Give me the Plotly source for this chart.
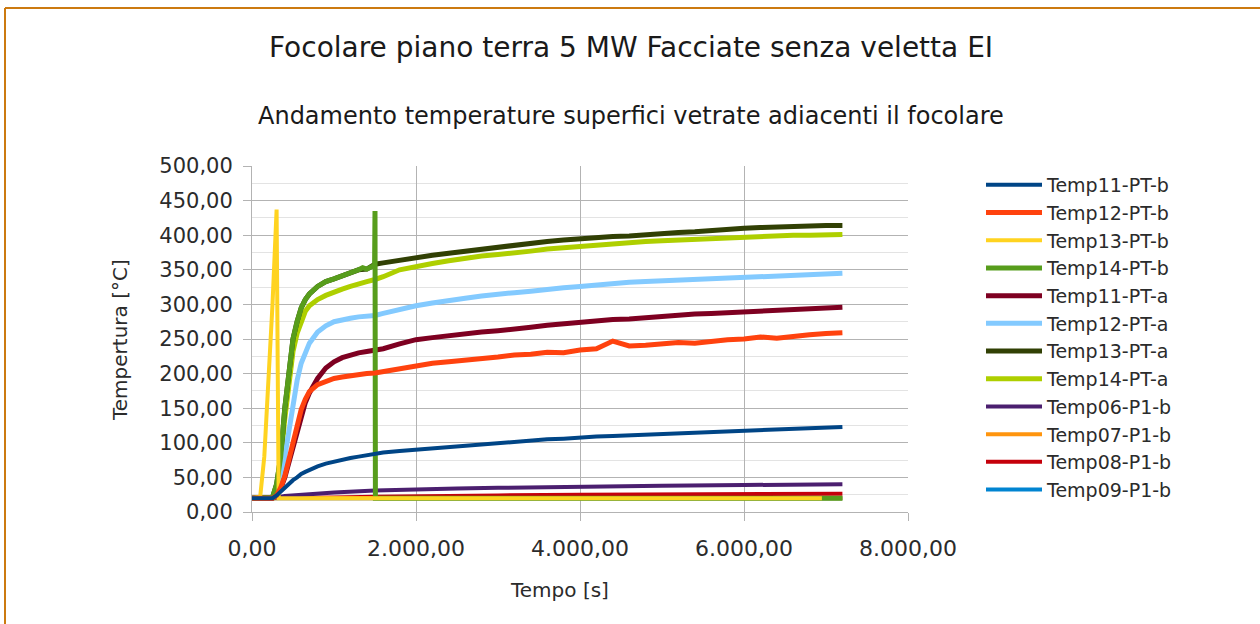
import plotly.graph_objects as go

# ---------------- data ----------------
t_common = [0, 100, 200, 250, 300, 350, 400, 450, 500, 550, 600, 650, 700, 800, 900,
            1000, 1100, 1200, 1300, 1400, 1500,
            1600, 1800, 2000, 2200, 2400, 2600, 2800, 3000, 3200, 3400, 3600, 3800,
            4000, 4200, 4400, 4600, 4800, 5000, 5200, 5400, 5600, 5800, 6000, 6200,
            6400, 6600, 6800, 7000, 7200]

temp11_pt_b = [20, 20, 20, 20, 24, 30, 36, 41, 46, 50, 55, 58, 61, 66, 70, 73, 76, 78, 80, 82, 84,
               86, 88, 90, 92, 94, 96, 98, 100, 101, 103, 105, 106, 108, 109, 110, 111, 112, 113,
               114, 115, 116, 117, 118, 119, 120, 121, 122, 122.5, 123]
temp12_pt_b = [20, 20, 20, 20, 24, 35, 52, 75, 100, 125, 148, 163, 174, 184, 189, 193, 195, 197, 199, 200, 201,
               203, 208, 212, 215, 217, 219, 222, 224, 227, 228, 231, 230, 234, 236, 247, 240, 241, 243,
               245, 244, 247, 249, 250, 253, 251, 254, 256, 258, 259]
temp11_pt_a = [20, 20, 20, 20, 24, 34, 50, 72, 95, 120, 140, 158, 172, 193, 208, 217, 223, 227, 230, 232, 234,
               236, 243, 249, 252, 255, 257, 260, 262, 264, 267, 270, 272, 274, 277, 278, 279, 281, 283,
               284, 286, 287, 288, 290, 291, 292, 293, 294, 295, 296]
temp12_pt_a = [20, 20, 20, 20, 25, 45, 80, 120, 160, 190, 215, 232, 244, 260, 269, 275, 278, 280, 282, 283, 284,
               287, 293, 298, 302, 306, 309, 312, 315, 317, 319, 322, 324, 326, 328, 331, 332, 333, 334,
               336, 337, 338, 339, 340, 341, 342, 343, 344, 345, 345]
temp13_pt_a = [20, 20, 20, 21, 40, 80, 150, 205, 250, 275, 295, 307, 315, 326, 333, 337, 341, 345, 350, 351, 358,
               360, 364, 367, 371, 374, 377, 380, 383, 385, 388, 391, 393, 395, 396, 398, 399, 401, 402,
               404, 405, 407, 409, 410, 411, 412, 413, 414, 414, 414]
temp14_pt_a = [20, 20, 20, 20, 35, 70, 135, 190, 232, 258, 276, 290, 298, 307, 313, 318, 322, 326, 330, 333, 336,
               340, 350, 355, 359, 363, 367, 370, 372, 374, 377, 380, 382, 384, 386, 388, 389, 391, 392,
               393, 394, 396, 397, 397, 398, 399, 400, 400, 401, 401]

t_temp14_pt_b = [0, 100, 200, 250, 300, 350, 400, 450, 500, 550, 600, 650, 700, 800, 900, 1000,
                 1100, 1200, 1300, 1350, 1400, 1450, 1495, 1500, 1505, 7200]
temp14_pt_b = [20, 20, 20, 21, 40, 80, 150, 205, 250, 275, 295, 307, 315, 326, 333, 337,
               341, 345, 350, 353, 351, 354, 356, 435, 20, 20]

t_temp13_pt_b = [0, 100, 150, 200, 250, 300, 325, 6950]
temp13_pt_b = [20, 22, 80, 180, 300, 437, 20, 20]

t_temp06 = [0, 250, 300, 400, 500, 700, 1000, 1500, 2000, 2500, 3000, 4000, 5000, 6000, 7200]
temp06_p1_b = [20, 20, 21, 23, 24, 26, 28, 31, 33, 34, 35, 37, 38, 39, 40]

t_temp08 = [0, 500, 1000, 1500, 2000, 3000, 4000, 5000, 6000, 7200]
temp08_p1_b = [20, 20, 21, 22, 23, 24, 25, 25.5, 26, 26.5]

t_flat = [0, 7200]
temp07_p1_b = [20, 20]
temp09_p1_b = [20, 20]

# legend order (top to bottom)
series = [
    ("Temp11-PT-b", t_common, temp11_pt_b, "#004586", 4),
    ("Temp12-PT-b", t_common, temp12_pt_b, "#ff420e", 5),
    ("Temp13-PT-b", t_temp13_pt_b, temp13_pt_b, "#ffd320", 4),
    ("Temp14-PT-b", t_temp14_pt_b, temp14_pt_b, "#579d1c", 5),
    ("Temp11-PT-a", t_common, temp11_pt_a, "#7e0021", 5),
    ("Temp12-PT-a", t_common, temp12_pt_a, "#83caff", 5),
    ("Temp13-PT-a", t_common, temp13_pt_a, "#314004", 5),
    ("Temp14-PT-a", t_common, temp14_pt_a, "#aecf00", 5),
    ("Temp06-P1-b", t_temp06, temp06_p1_b, "#4b1f6f", 4),
    ("Temp07-P1-b", t_flat, temp07_p1_b, "#ff950e", 4),
    ("Temp08-P1-b", t_temp08, temp08_p1_b, "#c5000b", 4),
    ("Temp09-P1-b", t_flat, temp09_p1_b, "#0084d1", 4),
]

y_ticks = [0, 50, 100, 150, 200, 250, 300, 350, 400, 450, 500]
x_ticks = [0, 2000, 4000, 6000, 8000]

FONT = "DejaVu Sans"
TXT = "#2b2b2b"

fig = go.Figure()
# first series drawn on top -> add in reverse order, keep legend order via legendrank
n = len(series)
for i in range(n - 1, -1, -1):
    name, xs, ys, col, w = series[i]
    fig.add_trace(go.Scatter(x=xs, y=ys, mode="lines", name=name, legendgroup=name,
                             legendrank=i + 1, line=dict(color=col, width=w)))

W, H = 1260, 624
L, R, T, B = 252, 908, 166, 512
pw, ph = R - L, B - T


def px(x):
    return (x - L) / pw


def py(y):
    return (B - y) / ph


fig.update_layout(
    width=W, height=H,
    margin=dict(l=L, r=W - R, t=T, b=H - B, pad=0),
    paper_bgcolor="white", plot_bgcolor="white",
    separators=",.",
    font=dict(family=FONT, color=TXT),
    showlegend=True,
    legend=dict(x=px(981), y=py(166), xanchor="left", yanchor="top",
                traceorder="grouped", tracegroupgap=0,
                font=dict(family=FONT, size=19, color=TXT),
                itemwidth=56, bgcolor="rgba(0,0,0,0)"),
    xaxis=dict(range=[0, 8000], tickvals=x_ticks, tickformat=",.2f",
               showgrid=True, gridcolor="#b3b3b3", gridwidth=1,
               ticks="outside", ticklen=8, tickcolor="#b3b3b3",
               showline=True, linecolor="#b3b3b3", mirror=False,
               zeroline=False, ticklabelstandoff=9,
               tickfont=dict(family=FONT, size=22, color=TXT)),
    yaxis=dict(range=[0, 500], tickvals=y_ticks, tickformat=",.2f",
               showgrid=True, gridcolor="#b3b3b3", gridwidth=1,
               minor=dict(dtick=25, showgrid=True, gridcolor="#e3e3e3", gridwidth=1),
               ticks="outside", ticklen=8, tickcolor="#b3b3b3",
               showline=True, linecolor="#b3b3b3",
               zeroline=False, ticklabelstandoff=6,
               tickfont=dict(family=FONT, size=21, color=TXT)),
    annotations=[
        dict(text="Focolare piano terra 5 MW Facciate senza veletta EI", x=px(631), y=py(47),
             xref="paper", yref="paper", showarrow=False, xanchor="center", yanchor="middle",
             font=dict(family=FONT, size=28, color="#1a1a1a")),
        dict(text="Andamento temperature superfici vetrate adiacenti il focolare", x=px(631), y=py(116),
             xref="paper", yref="paper", showarrow=False, xanchor="center", yanchor="middle",
             font=dict(family=FONT, size=24, color="#1a1a1a")),
        dict(text="Tempo [s]", x=px(559), y=py(590),
             xref="paper", yref="paper", showarrow=False, xanchor="center", yanchor="middle",
             font=dict(family=FONT, size=20, color=TXT)),
        dict(text="Tempertura [°C]", x=px(120), y=py(340), textangle=-90,
             xref="paper", yref="paper", showarrow=False, xanchor="center", yanchor="middle",
             font=dict(family=FONT, size=20, color=TXT)),
    ],
    shapes=[
        dict(type="line", xref="paper", yref="paper", x0=px(5), x1=px(1262), y0=py(8), y1=py(8),
             line=dict(color="#cc7a10", width=2)),
        dict(type="line", xref="paper", yref="paper", x0=px(5), x1=px(5), y0=py(8), y1=py(626),
             line=dict(color="#cc7a10", width=2)),
    ],
)

fig.write_html("out.html", config={"displayModeBar": False},
               post_script="document.body.style.margin='0';")
